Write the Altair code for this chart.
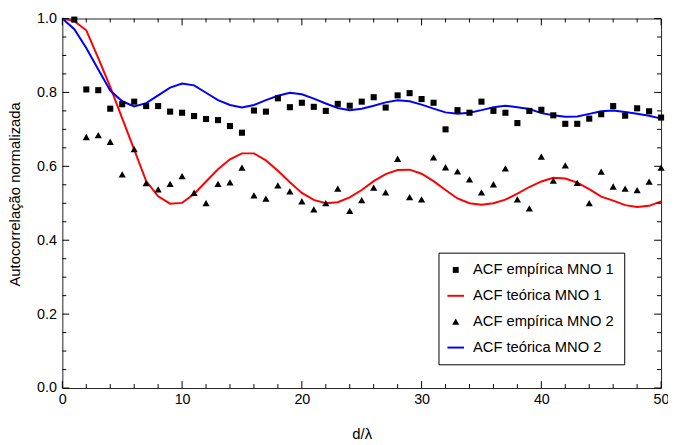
import altair as alt
import pandas as pd

# ---------------- data ----------------
series_names = ["ACF empírica MNO 1", "ACF teórica MNO 1", "ACF empírica MNO 2", "ACF teórica MNO 2"]
series_colors = ["black", "#ff0000", "black", "#0000ff"]
LINE_SYMBOL = "M-2.8,-0.33H2.8V0.33H-2.8Z"
TRIANGLE = "M0,-1.1L1.2,1L-1.2,1Z"
series_shapes = ["square", LINE_SYMBOL, TRIANGLE, LINE_SYMBOL]

x_emp1 = list(range(1, 51))
y_emp1 = [0.997, 0.808, 0.806, 0.756, 0.768, 0.775, 0.763, 0.763, 0.748, 0.745,
          0.736, 0.728, 0.725, 0.709, 0.691, 0.751, 0.748, 0.784, 0.760, 0.772,
          0.761, 0.750, 0.769, 0.764, 0.775, 0.787, 0.759, 0.792, 0.798, 0.782,
          0.772, 0.700, 0.752, 0.745, 0.775, 0.750, 0.745, 0.717, 0.750, 0.753,
          0.738, 0.715, 0.715, 0.729, 0.741, 0.763, 0.737, 0.757, 0.749, 0.732]

x_emp2 = list(range(2, 51))
y_emp2 = [0.679, 0.684, 0.666, 0.578, 0.646, 0.554, 0.537, 0.552, 0.573,
          0.528, 0.500, 0.552, 0.556, 0.596, 0.521, 0.512, 0.548, 0.532, 0.505,
          0.483, 0.500, 0.539, 0.479, 0.508, 0.542, 0.529, 0.620, 0.516, 0.510,
          0.624, 0.597, 0.586, 0.564, 0.529, 0.551, 0.594, 0.510, 0.486, 0.626,
          0.561, 0.602, 0.555, 0.500, 0.585, 0.545, 0.539, 0.535, 0.558, 0.596]

x_theo = list(range(0, 51))
y_theo1 = [1.000, 0.993, 0.968, 0.893, 0.815, 0.730, 0.645, 0.560, 0.519, 0.499,
           0.501, 0.525, 0.559, 0.592, 0.619, 0.635, 0.635, 0.616, 0.588, 0.557,
           0.528, 0.509, 0.500, 0.503, 0.516, 0.536, 0.560, 0.579, 0.590, 0.591,
           0.580, 0.560, 0.536, 0.513, 0.500, 0.496, 0.500, 0.510, 0.526, 0.544,
           0.559, 0.569, 0.567, 0.556, 0.538, 0.518, 0.507, 0.495, 0.490, 0.493,
           0.505]
y_theo2 = [1.000, 0.971, 0.920, 0.862, 0.805, 0.776, 0.762, 0.771, 0.792, 0.813,
           0.824, 0.819, 0.799, 0.779, 0.766, 0.759, 0.766, 0.779, 0.791, 0.799,
           0.795, 0.783, 0.770, 0.758, 0.752, 0.756, 0.764, 0.773, 0.779, 0.776,
           0.767, 0.756, 0.746, 0.742, 0.745, 0.752, 0.760, 0.764, 0.760, 0.755,
           0.744, 0.738, 0.734, 0.735, 0.742, 0.749, 0.751, 0.747, 0.742, 0.737,
           0.729]

x_major = [0, 10, 20, 30, 40, 50]
x_minor = [2, 4, 6, 8, 12, 14, 16, 18, 22, 24, 26, 28, 32, 34, 36, 38, 42, 44, 46, 48]
y_major = [0.0, 0.2, 0.4, 0.6, 0.8, 1.0]
y_minor = [0.05, 0.1, 0.15, 0.25, 0.3, 0.35, 0.45, 0.5, 0.55, 0.65, 0.7, 0.75, 0.85, 0.9, 0.95]

# ---------------- tables ----------------
emp1 = pd.DataFrame({"x": x_emp1, "y": y_emp1, "series": series_names[0]})
emp2 = pd.DataFrame({"x": x_emp2, "y": y_emp2, "series": series_names[2]})
theo = pd.DataFrame({
    "x": x_theo + x_theo,
    "y": y_theo1 + y_theo2,
    "series": [series_names[1]] * len(x_theo) + [series_names[3]] * len(x_theo),
})

W, H = 606, 374
MAJOR_LEN, MINOR_LEN = 7, 4
FONT = "Liberation Sans"
xscale = alt.Scale(domain=[0, 50], nice=False, zero=False)
yscale = alt.Scale(domain=[0, 1], nice=False, zero=False)
color_scale = alt.Scale(domain=series_names, range=series_colors)
shape_scale = alt.Scale(domain=series_names, range=series_shapes)

x_axis = alt.Axis(
    orient="bottom", values=x_major, ticks=False, domain=False, grid=False,
    labelPadding=5, labelFlush=False, labelOverlap=False, format="d",
    title="d/λ", titleX=W / 2, titleY=46, titleBaseline="middle")
y_axis = alt.Axis(
    orient="left", values=y_major, ticks=False, domain=False, grid=False,
    labelPadding=6, labelFlush=False, labelOverlap=False, format=".1f",
    title="Autocorrelação normalizada",
    titleX=-48, titleY=177.5, titleBaseline="middle")

legend = alt.Legend(
    title=None, orient="none", legendX=380.7, legendY=237,
    padding=10, strokeColor="black", fillColor="white",
    labelFont=FONT, labelFontSize=14.9, labelColor="black", labelOffset=10,
    rowPadding=10.2, symbolSize=36, symbolStrokeWidth=0, symbolOpacity=1,
)

# the only layer that carries the visible axes (axes resolved independently)
lines = alt.Chart(theo).mark_line(strokeWidth=2).encode(
    x=alt.X("x:Q", scale=xscale, axis=x_axis),
    y=alt.Y("y:Q", scale=yscale, axis=y_axis),
    color=alt.Color("series:N", scale=color_scale, legend=legend),
)

squares = alt.Chart(emp1).mark_point(filled=True, opacity=1, size=38).encode(
    x=alt.X("x:Q", scale=xscale, axis=None),
    y=alt.Y("y:Q", scale=yscale, axis=None),
    color=alt.Color("series:N", scale=color_scale, legend=legend),
    shape=alt.Shape("series:N", scale=shape_scale, legend=legend),
)

triangles = alt.Chart(emp2).mark_point(filled=True, opacity=1, size=37).encode(
    x=alt.X("x:Q", scale=xscale, axis=None),
    y=alt.Y("y:Q", scale=yscale, axis=None),
    color=alt.Color("series:N", scale=color_scale, legend=legend),
    shape=alt.Shape("series:N", scale=shape_scale, legend=legend),
)


# inward tick marks on all four sides of the frame
def x_ticks(values, length):
    df = pd.DataFrame({"v": values})
    base = alt.Chart(df).mark_rule(color="black", strokeWidth=1)
    xe = alt.X("v:Q", scale=xscale, axis=None)
    return [
        base.encode(x=xe, y=alt.value(H), y2=alt.value(H - length)),
        base.encode(x=xe, y=alt.value(0), y2=alt.value(length)),
    ]


def y_ticks(values, length):
    df = pd.DataFrame({"v": values})
    base = alt.Chart(df).mark_rule(color="black", strokeWidth=1)
    ye = alt.Y("v:Q", scale=yscale, axis=None)
    return [
        base.encode(y=ye, x=alt.value(0), x2=alt.value(length)),
        base.encode(y=ye, x=alt.value(W), x2=alt.value(W - length)),
    ]


tick_layers = (x_ticks(x_major, MAJOR_LEN) + x_ticks(x_minor, MINOR_LEN)
               + y_ticks(y_major, MAJOR_LEN) + y_ticks(y_minor, MINOR_LEN))

chart = alt.layer(lines, squares, triangles, *tick_layers).resolve_axis(
    x="independent", y="independent"
).properties(
    width=W, height=H,
    padding={"left": 55, "top": 8, "right": 7, "bottom": 53},
    autosize=alt.AutoSizeParams(type="none"),
    background="white",
).configure_view(
    stroke="#222222", strokeWidth=1
).configure_axis(
    labelFont=FONT, labelFontSize=14.5, labelColor="black",
    titleFont=FONT, titleFontSize=15, titleFontWeight="normal", titleColor="black",
)

chart.save("out.html", embed_options={"renderer": "svg", "actions": False})
